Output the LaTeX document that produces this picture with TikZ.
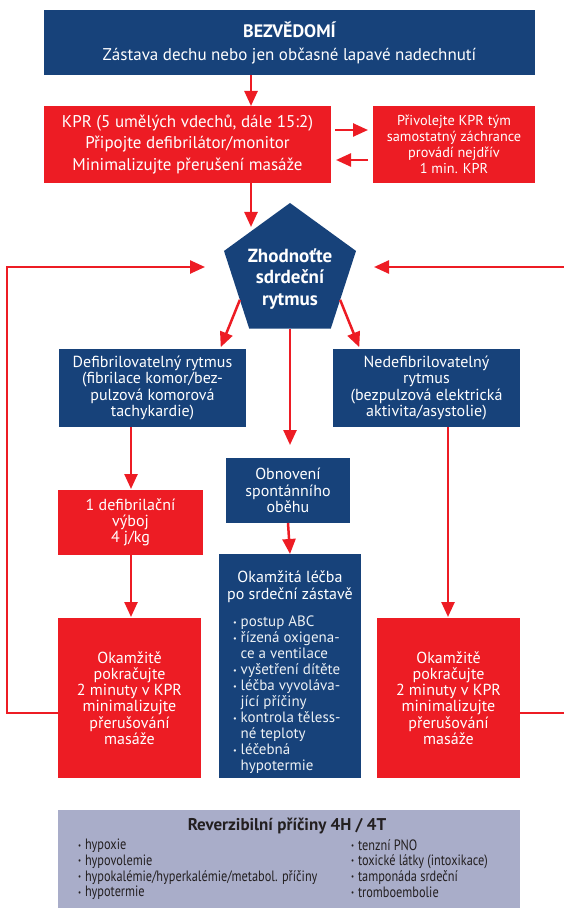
\documentclass[tikz,border=0pt]{standalone}
\usepackage{fontspec}
\usepackage{graphicx}
\setmainfont{PT Sans}
\newfontfamily\condfont[FakeStretch=0.82]{PT Sans}
\usetikzlibrary{arrows.meta,shapes.geometric,calc}
\definecolor{nblue}{HTML}{17427A}
\definecolor{nred}{HTML}{ED1C24}
\definecolor{ngrey}{HTML}{A9ADC9}
\definecolor{ntext}{HTML}{231F20}
\newcommand{\mybul}{\raisebox{0.12em}{\scalebox{0.55}{•}}\hspace{0.25em}}
\newcommand{\myind}{\phantom{\mybul}}
\begin{document}
\begin{tikzpicture}[x=1pt,y=-1pt,
  box/.style={rectangle, inner sep=0pt, outer sep=0pt, text=white, align=center},
  bluebox/.style={box, fill=nblue},
  redbox/.style={box, fill=nred},
  bigtext/.style={font=\fontsize{17}{21.5}\selectfont},
  smalltext/.style={font=\fontsize{16}{16.2}\selectfont},
  arr/.style={draw=nred, line width=2.5pt, -{Triangle[length=15pt,width=13pt]}},
]
\useasboundingbox (0,0) rectangle (564,909);

% boxes
\node[bluebox, minimum width=491pt, minimum height=65pt,
      font=\fontsize{17}{23}\selectfont] (unc) at (289.5,42.5)
  {{\bfseries\fontsize{18}{23}\selectfont BEZVĚDOMÍ}\\Zástava dechu nebo jen občasné lapavé nadechnutí};
\node[redbox, bigtext, minimum width=287pt, minimum height=77pt] (kpr) at (187.5,144.5)
  {KPR (5 umělých vdechů, dále 15:2)\\Připojte defibrilátor/monitor\\Minimalizujte přerušení masáže};
\node[redbox, font=\fontsize{14.3}{15.8}\selectfont, minimum width=162pt, minimum height=77pt] (team) at (454,144.5)
  {Přivolejte KPR tým\\samostatný záchrance\\provádí nejdřív\\1 min. KPR};

\node[regular polygon, regular polygon sides=5, fill=nblue, inner sep=0pt, outer sep=0pt,
      minimum size=138.8pt] (pent) at (290,272.4) {};
\node[text=white, align=center, font=\bfseries\fontsize{19}{21.5}\selectfont] (penttext) at (290,279)
  {Zhodnoťte\\sdrdeční\\rytmus};

\node[bluebox, smalltext, minimum width=187pt, minimum height=78pt] (defib) at (152.5,388)
  {Defibrilovatelný rytmus\\(fibrilace komor/bez-\\pulzová komorová\\tachykardie)};
\node[bluebox, smalltext, minimum width=187pt, minimum height=78pt] (nondefib) at (426.5,388)
  {Nedefibrilovatelný\\rytmus\\(bezpulzová elektrická\\aktivita/asystolie)};
\node[redbox, smalltext, minimum width=145pt, minimum height=65pt] (shock) at (130.5,522.5)
  {1 defibrilační\\výboj\\4 j/kg};
\node[bluebox, smalltext, minimum width=124pt, minimum height=65pt] (rosc) at (288,490.5)
  {Obnovení\\spontánního\\oběhu};
\node[redbox, smalltext, minimum width=143pt, minimum height=160pt] (lcpr) at (129.5,698)
  {Okamžitě\\pokračujte\\2 minuty v KPR\\minimalizujte\\přerušování\\masáže};
\node[redbox, smalltext, minimum width=143pt, minimum height=160pt] (rcpr) at (448.5,698)
  {Okamžitě\\pokračujte\\2 minuty v KPR\\minimalizujte\\přerušování\\masáže};
\node[bluebox, minimum width=142pt, minimum height=224pt] (post) at (290,666) {};
\node[text=white, align=center, font=\fontsize{16}{17}\selectfont, inner sep=0pt] (posttitle) at (290,587)
  {Okamžitá léčba\\po srdeční zástavě};
\node[text=white!92!nblue, align=left, font=\fontsize{15}{16}\selectfont, inner sep=0pt, anchor=north west] (postlist) at (233,616)
  {\mybul postup ABC\\\mybul řízená oxigena-\\\myind ce a ventilace\\\mybul vyšetření dítěte\\\mybul léčba vyvoláva-\\\myind jící příčiny\\\mybul kontrola těless-\\\myind né teploty\\\mybul léčebná\\\myind hypotermie};

% reversible causes
\node[rectangle, fill=ngrey, inner sep=0pt, minimum width=462pt, minimum height=98pt] (causes) at (289,859) {};
\node[text=ntext, font=\bfseries\fontsize{17}{18}\selectfont, inner sep=0pt] (ctitle) at (287,826) {Reverzibilní příčiny 4H / 4T};
\node[text=ntext, align=left, anchor=north west, inner sep=0pt, font=\condfont\fontsize{15}{15.7}\selectfont] (cleft) at (78,839)
  {\mybul hypoxie\\\mybul hypovolemie\\\mybul hypokalémie/hyperkalémie/metabol. příčiny\\\mybul hypotermie};
\node[text=ntext, align=left, anchor=north west, inner sep=0pt, font=\condfont\fontsize{15}{15.7}\selectfont] (cright) at (351,839)
  {\mybul tenzní PNO\\\mybul toxické látky (intoxikace)\\\mybul tamponáda srdeční\\\mybul tromboembolie};

% helper coordinates
\coordinate (kprtip) at (251,227);
\coordinate (ltip) at (205,267);
\coordinate (rtip) at (374,267);
\coordinate (lc1) at (7,713);
\coordinate (lc2) at (7,267);
\coordinate (rc1) at (568,713);
\coordinate (rc2) at (568,267);
\coordinate (mtip) at (290,445);

% connectors
\draw[arr] (unc.south -| kprtip) -- (kpr.north -| kprtip);
\draw[arr] (kpr.south -| kprtip) -- (kprtip);
\draw[arr, shorten <=4pt, shorten >=5pt] ([yshift=14.5pt]kpr.east) -- ([yshift=14.5pt]team.west);
\draw[arr, shorten <=5pt, shorten >=5pt] ([yshift=-15.5pt]team.west) -- ([yshift=-15.5pt]kpr.east);
\draw[arr, shorten >=2pt] ($(pent.corner 2)!0.63!(pent.corner 3)$) -- (defib.north -| 220,0);
\draw[arr, shorten >=2pt] ($(pent.corner 5)!0.63!(pent.corner 4)$) -- (nondefib.north -| 360,0);
\draw[arr] (pent) -- (mtip);
\draw[arr, shorten >=1pt] (defib.south -| 131,0) -- (shock.north -| 131,0);
\draw[arr, shorten >=1pt] (shock.south -| 131,0) -- (lcpr.north -| 131,0);
\draw[arr, shorten >=1pt] (nondefib.south -| 448,0) -- (rcpr.north -| 448,0);
\draw[arr] (rosc.south) -- (post.north);
\draw[arr] ([yshift=-15pt]lcpr.west) -- (lc1) -- (lc2) -- (ltip);
\draw[arr] ([yshift=-15pt]rcpr.east) -- (rc1) -- (rc2) -- (rtip);
\end{tikzpicture}
\end{document}
